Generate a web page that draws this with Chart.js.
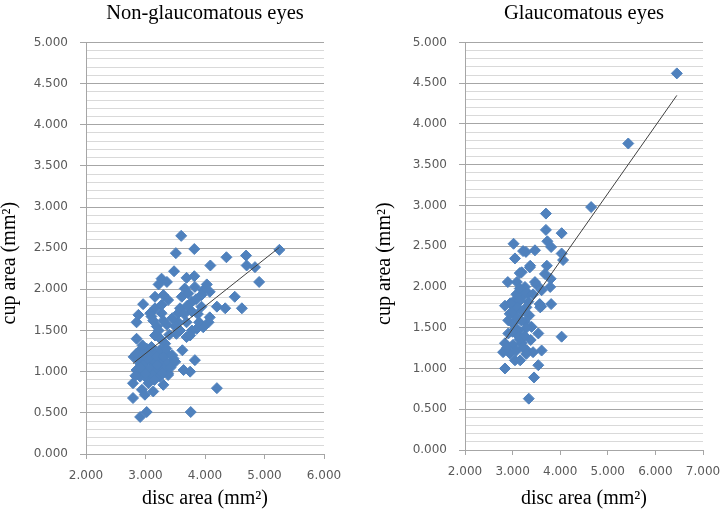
<!DOCTYPE html>
<html>
<head>
<meta charset="utf-8">
<script src="https://cdn.jsdelivr.net/npm/chart.js@4"></script>
<style>
  body { margin: 0; background: #fff; }
  #wrap { position: relative; width: 720px; height: 515px; }
  .panel { position: absolute; top: 0; width: 360px; height: 515px; }
</style>
</head>
<body>
<div id="wrap">
  <div class="panel" style="left:0"><canvas id="leftChart" width="360" height="515"></canvas></div>
  <div class="panel" style="left:360px"><canvas id="rightChart" width="360" height="515"></canvas></div>
</div>
<script>
// Non-glaucomatous eyes: disc area vs cup area (mm²)
const leftDisc = [
  3.60,3.51,3.82,4.36,4.69,4.70,4.84,5.25,4.91,4.09,
  3.48,3.27,3.36,3.22,3.69,3.82,4.03,3.97,3.83,3.66,
  2.96,2.88,2.85,3.16,3.30,3.38,3.61,3.72,3.78,3.94,
  4.08,3.58,3.78,3.94,3.16,3.27,3.08,4.50,4.62,4.34,
  4.20,4.08,4.06,3.10,3.27,3.55,3.88,
  2.85,3.19,3.36,3.16,3.33,3.52,3.69,3.78,3.86,3.97,
  3.69,3.58,3.75,3.13,3.30,3.22,3.25,3.40,3.62,3.83,
  3.64,3.75,3.38,3.30,4.20,2.79,2.94,3.13,2.99,2.79,
  2.91,3.02,3.76,3.41,3.47,3.38,3.55,3.65,3.45,3.70,
  3.90,3.85,3.50,
  2.80,2.91,3.02,3.13,3.24,3.36,2.91,3.02,3.13,3.24,
  3.36,2.85,2.96,3.08,3.19,3.30,2.91,3.02,3.13,3.24,
  3.08,3.19,2.96,2.88,3.05,3.30,3.45,3.50,2.85,2.98,
  3.10,3.20,3.28,3.15,2.92,3.00,2.83,3.35,2.95,3.42
];
const leftCup = [
  2.65,2.44,2.49,2.39,2.41,2.29,2.27,2.48,2.09,2.29,
  2.22,2.13,2.09,2.06,2.14,2.16,2.06,1.99,2.03,2.01,
  1.82,1.69,1.60,1.91,1.93,1.87,1.91,1.95,1.85,1.93,
  1.97,1.77,1.73,1.79,1.77,1.81,1.71,1.91,1.77,1.77,
  1.79,1.66,1.60,1.67,1.71,1.71,1.70,
  1.40,1.55,1.57,1.44,1.34,1.46,1.42,1.50,1.52,1.54,
  1.60,1.50,1.44,1.62,1.62,1.50,1.40,1.45,1.26,1.14,
  1.02,1.00,0.98,0.84,0.80,0.86,0.78,0.76,0.72,0.68,
  0.45,0.51,0.51,1.10,1.16,0.96,1.60,1.70,1.65,1.80,
  1.60,1.88,1.55,
  1.18,1.26,1.28,1.24,1.26,1.22,1.10,1.14,1.10,1.14,
  1.10,1.02,1.00,1.04,1.02,1.04,0.94,0.92,0.96,0.94,
  1.18,1.18,1.08,1.16,0.86,1.18,1.20,1.12,1.22,1.20,
  1.30,1.08,0.98,0.90,1.05,0.98,0.95,1.28,1.32,1.05
];
const leftTrendX = [2.79, 5.25];
const leftTrendY = [1.10, 2.51];

// Glaucomatous eyes
const rightDisc = [
  6.45,5.43,4.65,3.70,3.70,4.03,3.73,3.81,3.02,3.05,
  3.28,3.47,4.03,4.06,3.19,3.37,3.72,3.68,3.80,2.90,
  3.09,3.26,3.47,3.79,3.61,3.33,3.81,2.84,2.95,3.05,
  3.19,3.33,3.58,2.91,3.01,3.26,3.40,3.54,4.03,2.91,
  3.12,2.84,3.01,3.19,3.30,3.43,3.61,2.80,2.95,3.16,
  2.84,3.54,3.45,3.34,3.08,3.15,3.25,3.29,3.43,3.08,
  3.18,3.29,2.94,3.08,3.15,3.22,3.08,3.29,3.57,3.50,
  3.15,3.36,3.22,2.97,3.00,3.10,3.20,3.35,3.12,3.25,
  3.38,3.00,3.05,2.88,3.60,3.15
];
const rightCup = [
  4.62,3.76,2.98,2.90,2.70,2.66,2.56,2.49,2.53,2.35,
  2.43,2.45,2.41,2.33,2.18,2.26,2.26,2.16,2.10,2.06,
  2.06,2.00,2.06,2.00,1.96,1.92,1.79,1.77,1.80,1.84,
  1.88,1.82,1.75,1.59,1.55,1.57,1.51,1.43,1.39,1.43,
  1.47,1.31,1.29,1.31,1.22,1.20,1.22,1.20,1.18,1.10,
  1.00,1.04,0.89,0.63,1.91,1.83,1.95,1.75,1.91,1.63,
  1.59,1.50,1.67,1.46,1.36,1.26,1.22,1.18,1.79,2.03,
  2.17,2.24,2.44,1.79,1.70,1.75,1.70,1.65,1.40,1.40,
  1.35,1.45,1.10,1.25,1.76,1.98
];
const rightTrendX = [2.85, 6.45];
const rightTrendY = [1.36, 4.35];

const leftXTicks = [2, 3, 4, 5, 6];
const rightXTicks = [2, 3, 4, 5, 6, 7];
const yRange = [0, 5];

const tickFont = { family: "DejaVu Sans", size: 12 };
const serif = "'Liberation Serif', 'Times New Roman', serif";
const majorGrid = "#a6a6a6";
const minorGrid = "#d9d9d9";

function isMajor(v) {
    return Math.round(v * 10) % 5 === 0;
}

function makeChart(id, cfg) {
    const points = cfg.disc.map((d, i) => ({ x: d, y: cfg.cup[i] }));
    const trend = cfg.trendX.map((d, i) => ({ x: d, y: cfg.trendY[i] }));

    return new Chart(document.getElementById(id), {
        type: "scatter",
        data: {
            datasets: [
                {
                    data: trend,
                    showLine: true,
                    borderColor: "#404040",
                    borderWidth: 1,
                    pointRadius: 0,
                    order: 0
                },
                {
                    data: points,
                    pointStyle: "rectRot",
                    pointRadius: 5.5,
                    backgroundColor: "#4f81bd",
                    borderColor: "#4f81bd",
                    borderWidth: 1,
                    order: 1
                }
            ]
        },
        options: {
            responsive: false,
            animation: false,
            layout: { padding: { left: 0, right: cfg.padRight, top: 0, bottom: 0 } },
            plugins: {
                legend: { display: false },
                tooltip: { enabled: false },
                title: {
                    display: true,
                    text: cfg.title,
                    fullSize: false,
                    color: "#000",
                    font: { family: serif, size: 20.5, weight: "normal", lineHeight: 0.8 },
                    padding: { top: 5, bottom: 21 }
                }
            },
            scales: {
                x: {
                    type: "linear",
                    min: cfg.xTicks[0],
                    max: cfg.xTicks[cfg.xTicks.length - 1],
                    ticks: {
                        stepSize: 1,
                        autoSkip: false,
                        maxRotation: 0,
                        color: "#595959",
                        font: tickFont,
                        padding: 10,
                        callback: v => v.toFixed(3)
                    },
                    grid: { drawOnChartArea: false, color: majorGrid, tickLength: 5 },
                    border: { display: true, color: majorGrid },
                    title: {
                        display: true,
                        text: "disc area (mm²)",
                        color: "#000",
                        font: { family: serif, size: 20, lineHeight: 1 },
                        padding: { top: 0, bottom: 6 }
                    },
                    afterFit: s => { s.height = cfg.xHeight; s.paddingLeft = 0; s.paddingRight = 0; }
                },
                y: {
                    type: "linear",
                    min: yRange[0],
                    max: yRange[1],
                    ticks: {
                        stepSize: 0.1,
                        autoSkip: false,
                        color: "#595959",
                        font: tickFont,
                        padding: 12,
                        callback: v => isMajor(v) ? v.toFixed(3) : ""
                    },
                    grid: {
                        color: c => isMajor(c.tick.value) ? majorGrid : minorGrid,
                        tickColor: c => isMajor(c.tick.value) ? majorGrid : "rgba(0,0,0,0)",
                        tickLength: 6
                    },
                    border: { display: true, color: majorGrid },
                    title: {
                        display: true,
                        text: "cup area (mm²)" + cfg.titlePad,
                        color: "#000",
                        font: { family: serif, size: 20, lineHeight: 1 },
                        padding: { top: cfg.yTitleOffset, bottom: 0 }
                    },
                    afterFit: s => { s.width = cfg.yWidth; s.paddingTop = 0; s.paddingBottom = 0; }
                }
            }
        }
    });
}

makeChart("leftChart", {
    title: "Non-glaucomatous eyes",
    disc: leftDisc, cup: leftCup,
    trendX: leftTrendX, trendY: leftTrendY,
    xTicks: leftXTicks,
    padRight: 36, yWidth: 86, xHeight: 61,
    yTitleOffset: 0, titlePad: "      "
});

makeChart("rightChart", {
    title: "Glaucomatous eyes",
    disc: rightDisc, cup: rightCup,
    trendX: rightTrendX, trendY: rightTrendY,
    xTicks: rightXTicks,
    padRight: 17, yWidth: 105, xHeight: 65,
    yTitleOffset: 15, titlePad: "       "
});
</script>
</body>
</html>
